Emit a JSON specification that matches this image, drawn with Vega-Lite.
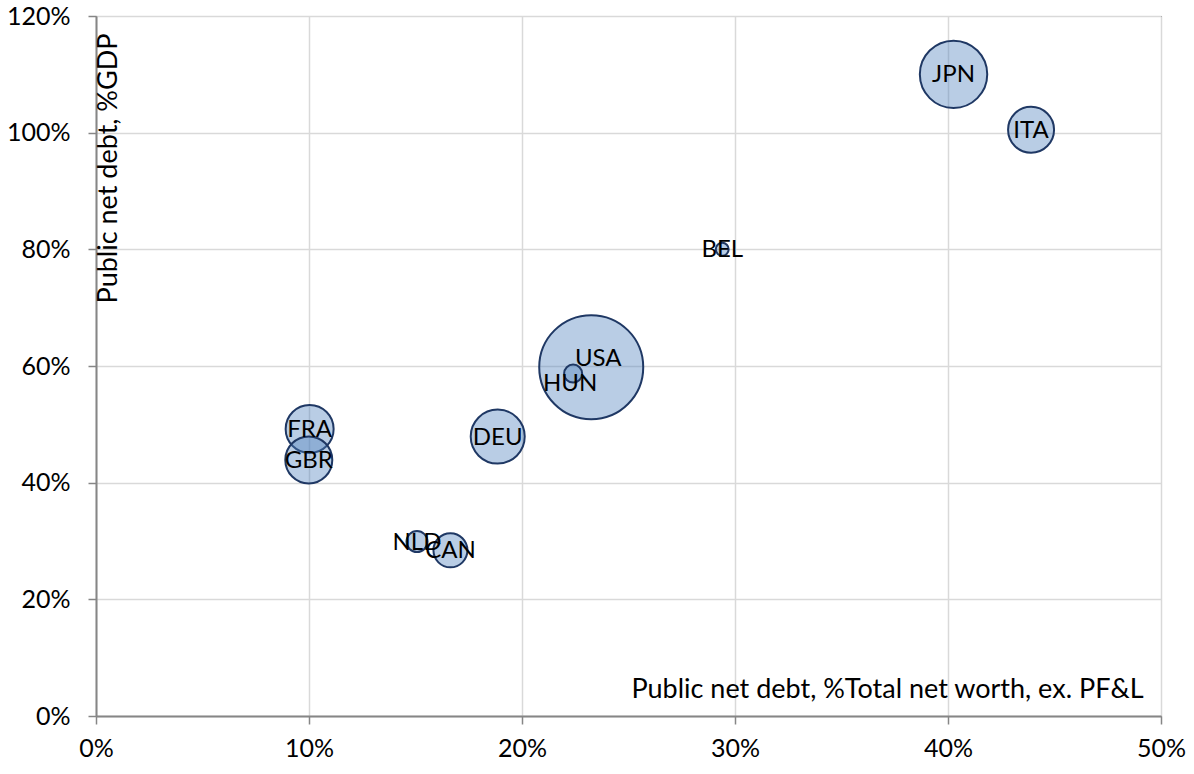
{
  "$schema": "https://vega.github.io/schema/vega-lite/v6.json",
  "width": 1065,
  "height": 700,
  "autosize": {"type": "none"},
  "padding": {"left": 96, "top": 16, "right": 33, "bottom": 58},
  "background": "white",
  "config": {
    "view": {"stroke": "black", "strokeWidth": 1},
    "font": "Lato",
    "axis": {
      "domainColor": "#868686",
      "domainWidth": 2,
      "tickColor": "#868686",
      "tickWidth": 1.5,
      "tickSize": 8,
      "gridColor": "#D9D9D9",
      "gridWidth": 1.5,
      "labelFont": "Lato",
      "labelFontSize": 25,
      "labelColor": "black",
      "labelFlush": false,
      "titleFont": "Lato",
      "titleFontSize": 27,
      "titleFontWeight": "normal",
      "titleColor": "black"
    }
  },
  "data": {
    "values": [
      {"country": "USA", "worth": 0.2325, "gdp": 0.598, "bubble": 2704},
      {"country": "JPN", "worth": 0.4026, "gdp": 1.100, "bubble": 1136},
      {"country": "DEU", "worth": 0.1886, "gdp": 0.479, "bubble": 729},
      {"country": "FRA", "worth": 0.1003, "gdp": 0.492, "bubble": 576},
      {"country": "GBR", "worth": 0.0999, "gdp": 0.439, "bubble": 552},
      {"country": "ITA", "worth": 0.439, "gdp": 1.005, "bubble": 529},
      {"country": "CAN", "worth": 0.1664, "gdp": 0.284, "bubble": 289},
      {"country": "NLD", "worth": 0.1507, "gdp": 0.299, "bubble": 110},
      {"country": "HUN", "worth": 0.224, "gdp": 0.587, "bubble": 81},
      {"country": "BEL", "worth": 0.294, "gdp": 0.800, "bubble": 42}
    ]
  },
  "encoding": {
    "x": {
      "field": "worth",
      "type": "quantitative",
      "scale": {"domain": [0, 0.5], "nice": false},
      "axis": {
        "values": [0, 0.1, 0.2, 0.3, 0.4, 0.5],
        "format": ".0%",
        "labelPadding": 12,
        "title": "Public net debt, %Total net worth, ex. PF&L",
        "titleX": 1047,
        "titleY": -27,
        "titleAlign": "right",
        "titleBaseline": "middle",
        "titleAnchor": null
      }
    },
    "y": {
      "field": "gdp",
      "type": "quantitative",
      "scale": {"domain": [0, 1.2], "nice": false},
      "axis": {
        "values": [0, 0.2, 0.4, 0.6, 0.8, 1.0, 1.2],
        "format": ".0%",
        "labelPadding": 18,
        "title": "Public net debt, %GDP",
        "titleAngle": -90,
        "titleX": 12,
        "titleY": 17,
        "titleAlign": "right",
        "titleBaseline": "middle",
        "titleAnchor": null
      }
    }
  },
  "layer": [
    {
      "mark": {"type": "point", "shape": "circle", "filled": true, "fill": "#4F81BD", "fillOpacity": 0.4, "stroke": "#1F3864", "strokeWidth": 2, "strokeOpacity": 1},
      "encoding": {
        "size": {"field": "bubble", "type": "quantitative", "scale": {"type": "linear", "domain": [0, 2704], "range": [0, 10816], "zero": true}, "legend": null},
        "order": {"field": "bubble", "type": "quantitative", "sort": "descending"}
      }
    },
    {
      "transform": [{"filter": "datum.country !== 'USA' && datum.country !== 'HUN'"}],
      "mark": {"type": "text", "align": "center", "baseline": "middle", "fontSize": 24, "font": "Lato", "color": "black", "dy": 1},
      "encoding": {"text": {"field": "country"}}
    },
    {
      "transform": [{"filter": "datum.country === 'USA'"}],
      "mark": {"type": "text", "align": "center", "baseline": "middle", "fontSize": 24, "font": "Lato", "color": "black", "dx": 7, "dy": -8},
      "encoding": {"text": {"field": "country"}}
    },
    {
      "transform": [{"filter": "datum.country === 'HUN'"}],
      "mark": {"type": "text", "align": "center", "baseline": "middle", "fontSize": 24, "font": "Lato", "color": "black", "dx": -3, "dy": 10},
      "encoding": {"text": {"field": "country"}}
    }
  ]
}
